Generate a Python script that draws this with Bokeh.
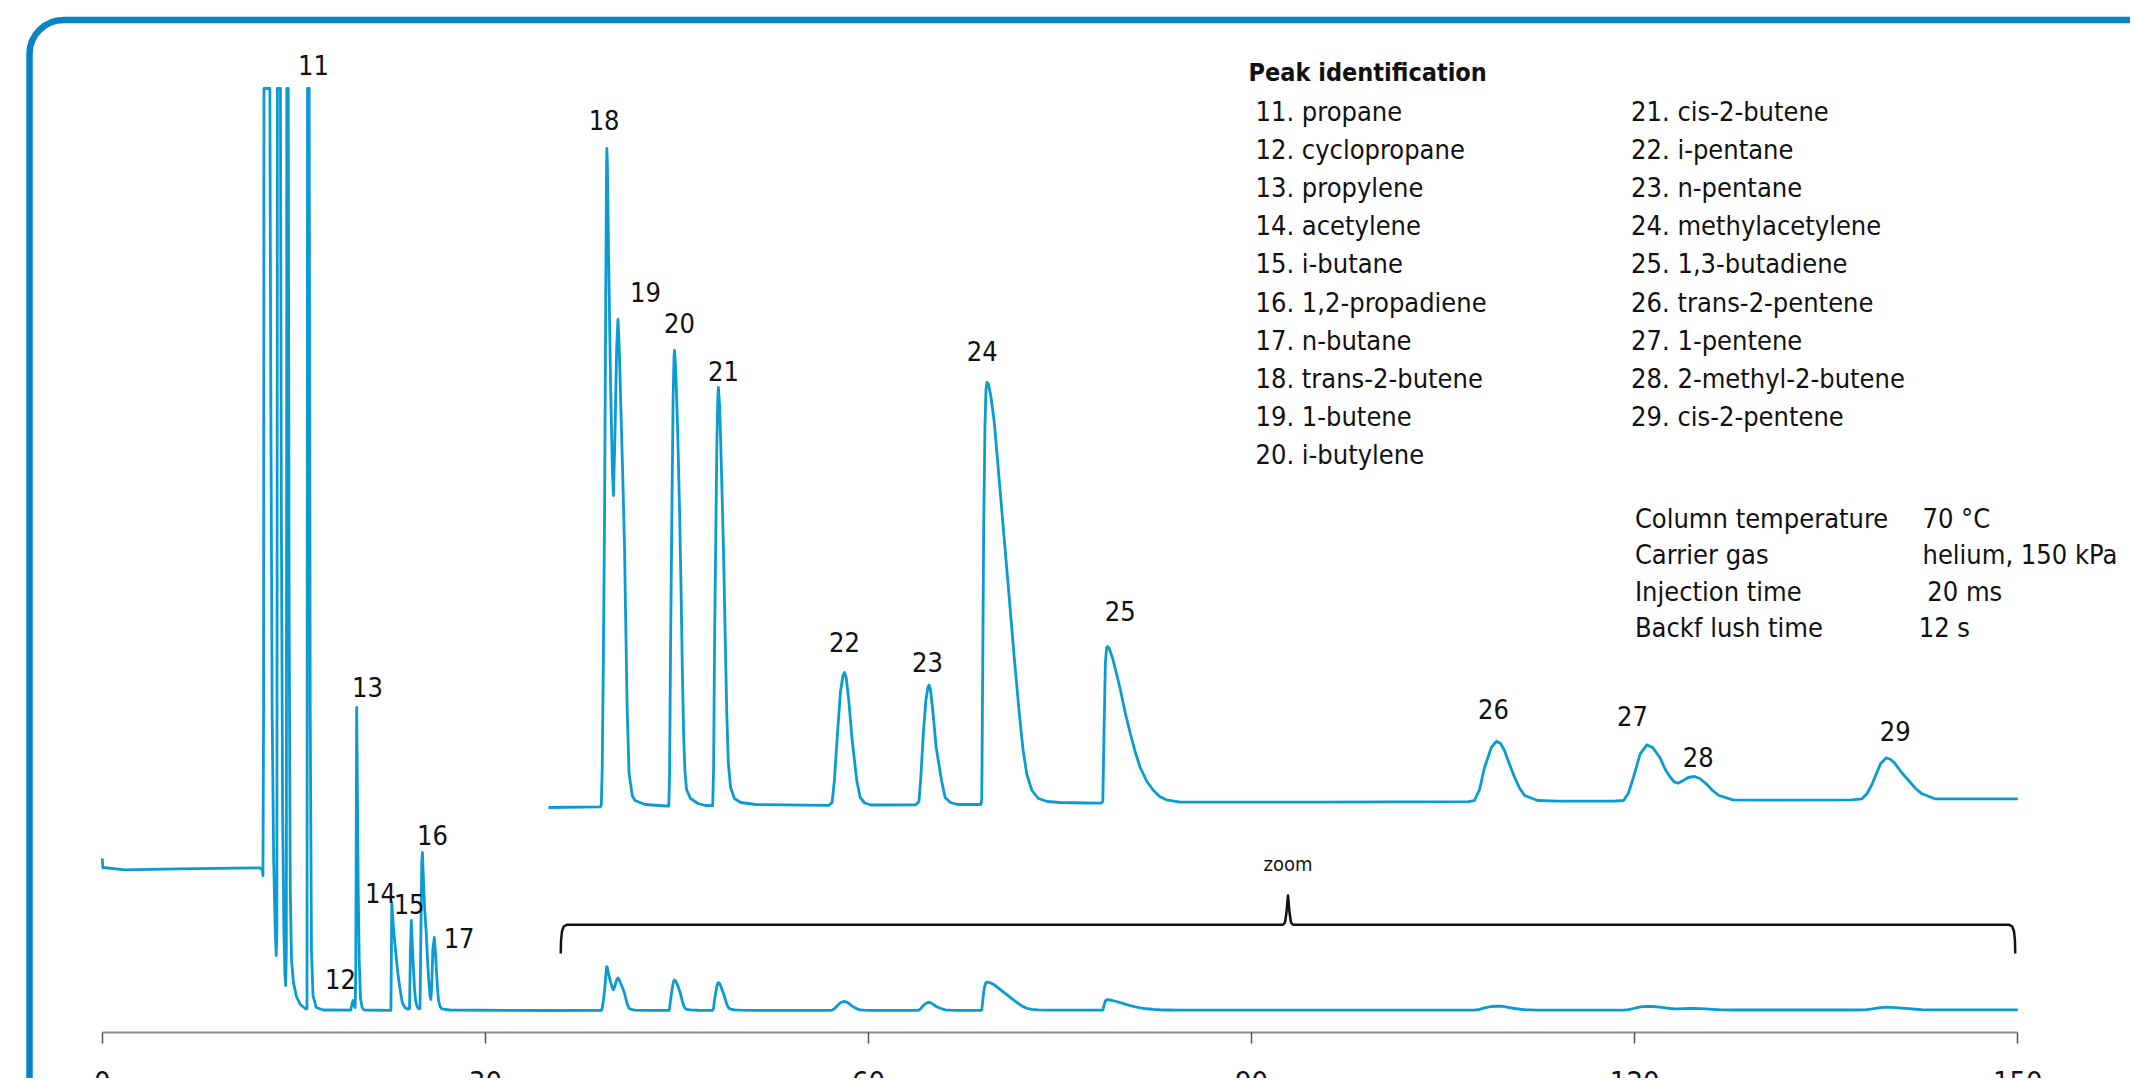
from bokeh.plotting import figure
from bokeh.models import Range1d, LinearAxis, FixedTicker, ColumnDataSource, BoxAnnotation
from bokeh.core.properties import value
from bokeh.embed import file_html
from bokeh.resources import INLINE

# ======================= DATA =======================
tick_values = [0, 30, 60, 90, 120, 150]
x_axis_label = "Seconds"

# Early part of the chromatogram (0-35 s); detector signal, 922 = clipped top
early_t = [0.0, 0.04, 1.8, 6.0, 12.3, 12.52, 12.58, 12.63, 12.66, 13.12, 13.2, 13.3, 13.42, 13.54,
           13.62, 13.67, 13.71, 13.95, 14.02, 14.12, 14.22, 14.3, 14.36, 14.41, 14.45, 14.56, 14.63,
           14.72, 14.82, 14.97, 15.2, 15.5, 15.95, 16.03, 16.07, 16.2, 16.28, 16.38, 16.5, 16.75,
           17.3, 19.45, 19.58, 19.65, 19.72, 19.8, 19.85, 19.89, 19.92, 19.97, 20.04, 20.12, 20.22,
           20.35, 20.5, 22.6, 22.64, 22.67, 22.8, 22.98, 23.14, 23.27, 23.49, 23.7, 23.9, 24.0,
           24.06, 24.13, 24.2, 24.28, 24.36, 24.45, 24.53, 24.65, 24.77, 24.88, 24.95, 25.02, 25.07,
           25.15, 25.25, 25.37, 25.48, 25.58, 25.66, 25.73, 25.8, 25.88, 26.0, 26.07, 26.15, 26.25,
           26.33, 26.45, 26.57, 27.2, 34.9]
early_signal = [152, 143, 140.7, 141.7, 142.7, 141, 135, 300, 922, 922, 600, 300, 150, 80,
                55, 80, 922, 922, 500, 200, 80, 36, 25, 60, 922, 922, 400,
                120, 50, 28, 14, 6, 1.5, 2, 922, 922, 300, 60, 15, 3,
                0.5, 0.3, 8, 10, 5, 3, 40, 200, 303, 230, 120, 50, 12,
                3, 0.5, 0.2, 60, 108, 82, 58, 38, 25, 8, 3, 1.5, 1.5,
                2, 60, 90, 65, 43, 22, 10, 4, 1.7, 2, 80, 150, 158,
                130, 100, 77, 48, 27, 15, 11, 25, 60, 73, 62, 43, 22,
                10, 4, 1.7, 0.5, 0.0]

# Zoomed part (35-150 s) in inset units; the lower trace shows it divided by zoom_gain
zoom_t = [34.94, 39.0, 39.08, 39.15, 39.24, 39.33, 39.42, 39.48, 39.51, 39.55, 39.65, 39.8, 39.95,
          40.03, 40.15, 40.28, 40.38, 40.47, 40.62, 40.78, 40.9, 40.96, 41.1, 41.25, 41.5, 41.71,
          42.5, 44.1, 44.36, 44.42, 44.5, 44.6, 44.7, 44.77, 44.81, 44.9, 45.05, 45.2, 45.32,
          45.42, 45.52, 45.62, 45.75, 46.06, 46.65, 47.23, 47.8, 47.87, 47.95, 48.03, 48.12, 48.2,
          48.25, 48.35, 48.5, 48.65, 48.78, 48.9, 49.02, 49.2, 49.5, 50.0, 51.15, 56.9, 57.15,
          57.33, 57.55, 57.8, 58.0, 58.12, 58.25, 58.45, 58.7, 59.08, 59.35, 59.7, 60.2, 63.7,
          63.95, 64.08, 64.3, 64.5, 64.65, 64.74, 64.85, 65.05, 65.3, 65.72, 66.0, 66.42, 67.0,
          68.8, 68.87, 68.95, 69.02, 69.12, 69.2, 69.29, 69.4, 69.6, 69.85, 70.2, 70.6, 71.0,
          71.4, 71.8, 72.1, 72.4, 72.8, 73.3, 74.0, 75.0, 77.0, 78.2, 78.35, 78.45, 78.55, 78.65,
          78.71, 78.85, 79.1, 79.4, 79.72, 80.1, 80.5, 80.9, 81.28, 81.8, 82.32, 82.8, 83.33,
          84.4, 95.0, 107.0, 107.45, 107.85, 108.24, 108.77, 109.18, 109.5, 109.8, 110.2, 110.6,
          111.0, 111.38, 112.4, 114.0, 118.5, 119.12, 119.5, 119.9, 120.43, 120.95, 121.4,
          121.97, 122.4, 122.8, 123.1, 123.4, 123.8, 124.2, 124.68, 125.1, 125.6, 126.1, 126.6,
          127.7, 130.0, 137.0, 137.8, 138.2, 138.6, 139.25, 139.7, 140.05, 140.4, 140.9, 141.45,
          142.0, 142.5, 143.5, 150.0]
zoom_signal = [0, 0.6, 3, 40, 150, 290, 500, 630, 659, 645, 550, 425, 335,
               312, 375, 460, 488, 465, 395, 320, 257, 207, 100, 34, 12, 7,
               3, 1.5, 1.5, 30, 160, 290, 410, 450, 457, 440, 380, 300, 220,
               140, 75, 38, 18, 9, 4, 2, 1.8, 40, 170, 257, 360, 410,
               420, 400, 330, 255, 170, 95, 45, 20, 9, 5, 3, 2.2, 5,
               27, 70, 115, 132, 135, 130, 108, 70, 27, 10, 4.5, 2.5, 2.7,
               6, 27, 75, 108, 120, 122.5, 118, 95, 60, 27, 10, 5, 3,
               3, 8, 150, 280, 380, 418, 425, 423, 410, 385, 333, 273, 213,
               152, 95, 58, 33, 17, 9, 6, 5, 4.5, 4.3, 6, 80, 145, 160,
               161, 159, 150, 135, 118, 95, 74, 55, 40, 26, 17, 11, 7.7,
               5.3, 5.3, 5.8, 7, 18, 40, 60, 66.3, 64, 57, 43, 30,
               19, 12, 7, 6.3, 6.5, 7, 14, 30, 53.7, 62.7, 60,
               50, 38, 30, 25.5, 24.3, 27, 30, 31, 29, 23.7, 17, 12,
               7.7, 7.3, 7.7, 8.7, 14, 23.7, 43.7, 49.7, 48, 43.7, 35, 27,
               19, 13.7, 8.7, 8.7]
zoom_gain = 15
zoom_window = [35.9, 149.8]
zoom_label = "zoom"

peak_labels = ["11", "12", "13", "14", "15", "16", "17", "18", "19", "20",
               "21", "22", "23", "24", "25", "26", "27", "28", "29"]

legend_title = "Peak identification"
compound_ids = [11, 12, 13, 14, 15, 16, 17, 18, 19, 20, 21, 22, 23, 24, 25, 26, 27, 28, 29]
compound_names = ["propane", "cyclopropane", "propylene", "acetylene", "i-butane",
                  "1,2-propadiene", "n-butane", "trans-2-butene", "1-butene", "i-butylene",
                  "cis-2-butene", "i-pentane", "n-pentane", "methylacetylene", "1,3-butadiene",
                  "trans-2-pentene", "1-pentene", "2-methyl-2-butene", "cis-2-pentene"]

condition_names = ["Column temperature", "Carrier gas", "Injection time", "Backf lush time"]
condition_values = ["70 °C", "helium, 150 kPa", "20 ms", "12 s"]

# ======================= LAYOUT (pixel positions on the page) =======================
W, H = 2130, 1078
OFF = 0
PX0, PXS = 101.8, 12.77      # page x of t = 0 and pixels per second
BASE = 1010.0                # page y of the lower baseline
INSET_BASE = 807.0           # page y of the inset baseline
AXIS_Y = 1032.0


def tx(px):
    return (px - PX0) / PXS


def sy(py):
    return BASE - py


FONT = "'DejaVu Sans Condensed', 'Liberation Sans Narrow', sans-serif"
TRACE = "#0a9bd2"
FRAME = "#0784c3"
INK = "#111111"

# label centre (page px) for each peak number
label_xy = [(313, 64), (340, 978.5), (367, 686), (380, 892.5), (408.6, 903.3), (432, 834.5),
            (458.6, 937), (603.6, 119), (645, 291), (679, 322.5), (723, 370), (844, 641),
            (927, 661), (981.7, 350), (1119.7, 610), (1493, 708.5), (1632, 715),
            (1697.7, 756), (1894.7, 730)]

p = figure(width=W, height=H,
           x_range=Range1d(tx(OFF), tx(OFF + W)),
           y_range=Range1d(sy(OFF + H), sy(OFF)),
           x_axis_type=None, y_axis_type=None,
           toolbar_location=None, output_backend="svg",
           min_border=0, outline_line_color=None)
p.background_fill_color = "white"
p.border_fill_color = "white"

# rounded blue frame
frame = BoxAnnotation(left=tx(29), top=sy(19.5), right=tx(2600), bottom=sy(1600),
                      fill_color=None, fill_alpha=0, line_color=FRAME, line_alpha=1.0,
                      line_width=6.5, border_radius=34, level="underlay")
p.add_layout(frame)

# x axis drawn at a fixed position
ax = LinearAxis(ticker=FixedTicker(ticks=tick_values), fixed_location=sy(AXIS_Y),
                bounds=(tick_values[0], tick_values[-1]), axis_label=x_axis_label)
ax.axis_line_color = "#8c8c8c"
ax.axis_line_width = 2
ax.major_tick_line_color = "#555555"
ax.major_tick_line_width = 1.5
ax.major_tick_in = 0
ax.major_tick_out = 11
ax.minor_tick_line_color = None
ax.major_label_standoff = 27
ax.major_label_text_font = FONT
ax.major_label_text_font_size = "29px"
ax.major_label_text_color = INK
ax.axis_label_text_font = FONT
ax.axis_label_text_font_size = "29px"
ax.axis_label_text_font_style = "bold"
ax.axis_label_standoff = 2
p.add_layout(ax, "below")

# lower (full-scale) trace
lower_t = early_t + zoom_t
lower_y = early_signal + [s / zoom_gain for s in zoom_signal]
p.line(lower_t, lower_y, line_color=TRACE, line_width=2.8, line_join="round")

# zoomed inset trace
inset_off = BASE - INSET_BASE
p.line(zoom_t, [inset_off + s for s in zoom_signal], line_color=TRACE, line_width=2.8,
       line_join="round")

# zoom bracket
zl, zr = zoom_window
zm = (zl + zr) / 2.0
hook = [(0, 953), (0.3, 940), (1.2, 931), (3, 926), (6, 924.3)]
spike = [(-5, 924.3), (-3, 922), (-1.5, 912), (-0.5, 900), (0, 895), (0.5, 900), (1.5, 912),
         (3, 922), (5, 924.3)]
bx = [zl + d / PXS for d, _ in hook] + [zm + d / PXS for d, _ in spike] + \
     [zr - d / PXS for d, _ in reversed(hook)]
by = [sy(v) for _, v in hook] + [sy(v) for _, v in spike] + [sy(v) for _, v in reversed(hook)]
p.line(bx, by, line_color=INK, line_width=2.5, line_join="round")
p.text(x=[zm], y=[sy(863.5)], text=[zoom_label], text_font=value(FONT), text_font_size="20px",
       text_align="center", text_baseline="middle", text_color=INK)

# peak numbers
src = ColumnDataSource(dict(x=[tx(a) for a, _ in label_xy], y=[sy(b) for _, b in label_xy],
                            text=peak_labels))
p.text(x="x", y="y", text="text", source=src, text_font=value(FONT), text_font_size="27px",
       text_align="center", text_baseline="middle", text_color=INK)

# legend: peak identification
p.text(x=[tx(1248)], y=[sy(71.7)], text=[legend_title], text_font=value(FONT),
       text_font_size="25px", text_font_style="bold", text_align="left",
       text_baseline="middle", text_color=INK)
items = [f"{i}. {n}" for i, n in zip(compound_ids, compound_names)]
lx, ly = [], []
for k in range(len(items)):
    col, row = (0, k) if k < 10 else (1, k - 10)
    lx.append(tx(1255 if col == 0 else 1630.6))
    ly.append(sy(111.2 + 38.07 * row))
p.text(x=lx, y=ly, text=items, text_font=value(FONT), text_font_size="27px",
       text_align="left", text_baseline="middle", text_color=INK)

# run conditions
cond_mid = [517.5, 554.2, 590.8, 626.7]
val_x = [1922, 1922, 1926.8, 1918.2]
p.text(x=[tx(1634.4)] * 4, y=[sy(b) for b in cond_mid], text=condition_names,
       text_font=value(FONT), text_font_size="27px", text_align="left",
       text_baseline="middle", text_color=INK)
p.text(x=[tx(v) for v in val_x], y=[sy(b) for b in cond_mid], text=condition_values,
       text_font=value(FONT), text_font_size="27px", text_align="left",
       text_baseline="middle", text_color=INK)

open("out.html", "w").write(file_html(p, INLINE))
